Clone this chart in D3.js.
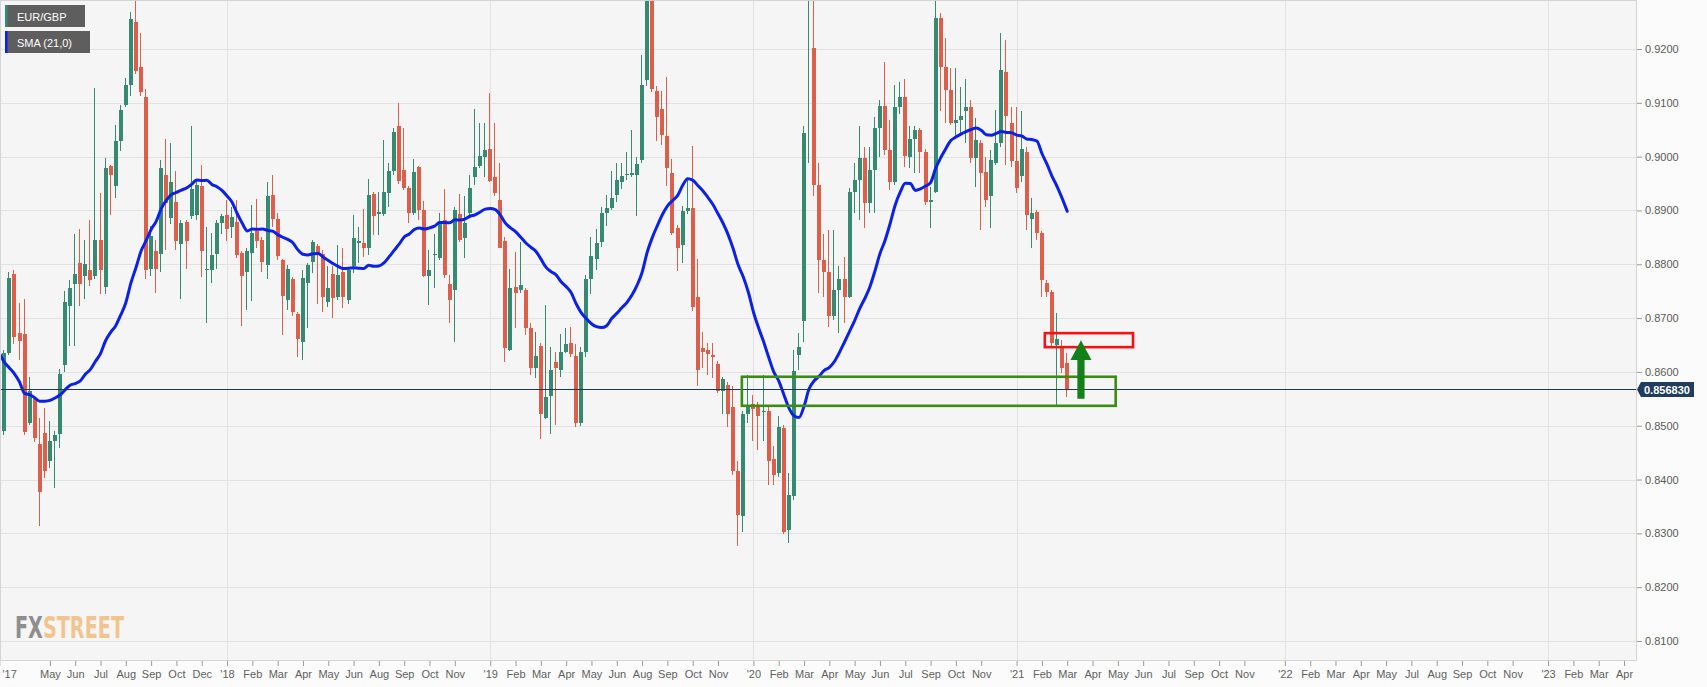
<!DOCTYPE html>
<html><head><meta charset="utf-8">
<script src="https://cdn.jsdelivr.net/npm/d3@7"></script>
<style>html,body{margin:0;padding:0;background:#fbfbfb;} svg{display:block;}</style>
</head><body>
<svg id="chart" width="1707" height="687"></svg>
<script>
// ---------------- DATA ----------------
const symbolName = "EUR/GBP";
const smaName = "SMA (21,0)";
const smaPeriod = 21;
const firstWeek = "2017-02-20"; // weekly candles, one per week from here

const opens = [0.8549,0.8491,0.8635,0.8781,0.8672,0.8670,0.8505,0.8549,0.8466,0.8486,0.8434,0.8472,0.8485,0.8613,0.8723,0.8763,0.8803,0.8778,0.8789,0.8779,
0.8846,0.8757,0.8982,0.8946,0.9029,0.9096,0.9134,0.9251,0.9166,0.9110,0.8792,0.8825,0.8819,0.8965,0.8886,0.8915,0.8838,0.8878,0.8889,0.8891,
0.8946,0.8789,0.8789,0.8819,0.8876,0.8891,0.8869,0.8878,0.8821,0.8786,0.8821,0.8862,0.8845,0.8799,0.8929,0.8884,0.8808,0.8734,0.8772,0.8708,
0.8656,0.8766,0.8805,0.8834,0.8820,0.8730,0.8782,0.8739,0.8786,0.8734,0.8796,0.8840,0.8839,0.8830,0.8931,0.8893,0.8893,0.8932,0.8973,0.9057,
0.8975,0.8941,0.8895,0.8981,0.8901,0.8778,0.8817,0.8811,0.8882,0.8763,0.8752,0.8893,0.8848,0.8895,0.8963,0.8983,0.9000,0.9014,0.8963,0.8919,
0.8844,0.8641,0.8758,0.8752,0.8752,0.8681,0.8607,0.8649,0.8515,0.8556,0.8619,0.8604,0.8637,0.8654,0.8629,0.8505,0.8637,0.8772,0.8810,0.8841,
0.8896,0.8905,0.8929,0.8953,0.8965,0.8966,0.8966,0.8994,0.9142,0.9300,0.9122,0.9089,0.9039,0.8970,0.8868,0.8836,0.8899,0.8904,0.8740,0.8644,
0.8641,0.8632,0.8614,0.8564,0.8576,0.8535,0.8415,0.8332,0.8521,0.8541,0.8535,0.8525,0.8528,0.8438,0.8412,0.8495,0.8306,0.8369,0.8631,0.8695,
0.9300,0.9201,0.8947,0.8808,0.8786,0.8703,0.8752,0.8772,0.8740,0.8935,0.8957,0.8997,0.8913,0.8976,0.9053,0.9094,0.9012,0.8953,0.9093,0.9110,
0.9000,0.9032,0.9049,0.9009,0.8916,0.8935,0.9257,0.9167,0.9124,0.9062,0.9069,0.9084,0.9093,0.8997,0.9026,0.8972,0.8926,0.8988,0.9025,0.9158,
0.9063,0.8991,0.8964,0.9009,0.8885,0.8898,0.8859,0.8765,0.8749,0.8650,0.8648,0.8617];
const highs = [0.8575,0.8640,0.8786,0.8789,0.8728,0.8735,0.8591,0.8552,0.8514,0.8533,0.8509,0.8491,0.8606,0.8750,0.8770,0.8856,0.8866,0.8846,0.8882,0.9128,
0.8933,0.8997,0.8984,0.9058,0.9096,0.9147,0.9269,0.9307,0.9230,0.9125,0.8872,0.8846,0.8994,0.9033,0.9026,0.8974,0.8882,0.8882,0.9056,0.8955,
0.8984,0.8869,0.8859,0.8882,0.8894,0.8920,0.8907,0.8920,0.8824,0.8830,0.8910,0.8921,0.8850,0.8952,0.8966,0.8896,0.8810,0.8799,0.8777,0.8712,
0.8789,0.8803,0.8845,0.8838,0.8827,0.8796,0.8796,0.8836,0.8830,0.8792,0.8892,0.8870,0.8902,0.8958,0.8935,0.8935,0.9031,0.8988,0.9053,0.9099,
0.9053,0.8945,0.8995,0.8983,0.8918,0.8827,0.8857,0.8896,0.8939,0.8780,0.8907,0.8931,0.8926,0.8966,0.9088,0.9062,0.9062,0.9118,0.9063,0.8988,
0.8851,0.8792,0.8823,0.8842,0.8755,0.8690,0.8674,0.8654,0.8724,0.8647,0.8637,0.8671,0.8681,0.8684,0.8651,0.8647,0.8780,0.8850,0.8866,0.8906,
0.8929,0.8974,0.8989,0.8989,0.9009,0.9049,0.8999,0.9188,0.9320,0.9325,0.9132,0.9122,0.9148,0.8996,0.8873,0.8909,0.8959,0.9019,0.8810,0.8675,
0.8654,0.8654,0.8621,0.8591,0.8582,0.8574,0.8435,0.8528,0.8594,0.8558,0.8545,0.8594,0.8535,0.8462,0.8518,0.8501,0.8412,0.8641,0.8672,0.9056,
0.9500,0.9300,0.8988,0.8857,0.8864,0.8864,0.8796,0.8814,0.8941,0.8988,0.9056,0.9018,0.9018,0.9074,0.9105,0.9176,0.9068,0.9133,0.9139,0.9145,
0.9056,0.9056,0.9053,0.9015,0.8944,0.9292,0.9266,0.9220,0.9164,0.9164,0.9130,0.9145,0.9105,0.9071,0.9031,0.9000,0.9012,0.9087,0.9229,0.9217,
0.9093,0.9093,0.9084,0.9018,0.8923,0.8901,0.8861,0.8771,0.8752,0.8710,0.8660,0.8636];
const lows = [0.8402,0.8482,0.8632,0.8651,0.8622,0.8482,0.8501,0.8469,0.8313,0.8402,0.8421,0.8384,0.8459,0.8600,0.8648,0.8648,0.8722,0.8735,0.8760,0.8773,
0.8744,0.8744,0.8891,0.8923,0.9010,0.9093,0.9112,0.9154,0.9112,0.8773,0.8779,0.8747,0.8786,0.8827,0.8875,0.8827,0.8735,0.8792,0.8885,0.8882,
0.8776,0.8690,0.8766,0.8792,0.8856,0.8843,0.8849,0.8811,0.8686,0.8715,0.8731,0.8830,0.8786,0.8772,0.8870,0.8808,0.8669,0.8715,0.8703,0.8628,
0.8622,0.8681,0.8783,0.8727,0.8712,0.8721,0.8700,0.8734,0.8718,0.8727,0.8783,0.8802,0.8814,0.8817,0.8854,0.8854,0.8889,0.8907,0.8966,0.8950,
0.8938,0.8876,0.8892,0.8882,0.8777,0.8724,0.8755,0.8808,0.8774,0.8690,0.8656,0.8842,0.8811,0.8889,0.8947,0.8978,0.8963,0.8953,0.8926,0.8830,
0.8619,0.8638,0.8681,0.8746,0.8669,0.8595,0.8588,0.8475,0.8512,0.8485,0.8501,0.8591,0.8635,0.8627,0.8498,0.8500,0.8627,0.8744,0.8790,0.8833,
0.8872,0.8900,0.8916,0.8939,0.8956,0.8963,0.8890,0.8989,0.9132,0.9120,0.9029,0.9022,0.8946,0.8854,0.8787,0.8803,0.8893,0.8714,0.8574,0.8608,
0.8594,0.8588,0.8561,0.8521,0.8498,0.8408,0.8276,0.8302,0.8505,0.8471,0.8455,0.8471,0.8389,0.8389,0.8405,0.8299,0.8282,0.8362,0.8604,0.8656,
0.8988,0.8926,0.8746,0.8740,0.8684,0.8696,0.8672,0.8690,0.8737,0.8895,0.8882,0.8867,0.8895,0.8895,0.9000,0.9003,0.8938,0.8947,0.9080,0.8981,
0.8978,0.8969,0.8969,0.8910,0.8867,0.8932,0.9084,0.9062,0.9059,0.9037,0.9043,0.9025,0.8988,0.8944,0.8864,0.8907,0.8867,0.8984,0.9018,0.8984,
0.8981,0.8932,0.8953,0.8864,0.8830,0.8845,0.8740,0.8740,0.8644,0.8535,0.8598,0.8553];
const closes = [0.8475,0.8635,0.8774,0.8664,0.8658,0.8488,0.8565,0.8477,0.8377,0.8415,0.8472,0.8482,0.8597,0.8729,0.8755,0.8782,0.8763,0.8800,0.8770,0.8846,
0.8789,0.8978,0.8965,0.9029,0.9086,0.9134,0.9256,0.9160,0.9121,0.8790,0.8853,0.8792,0.8979,0.8914,0.8953,0.8843,0.8876,0.8843,0.8939,0.8947,
0.8824,0.8792,0.8818,0.8876,0.8889,0.8866,0.8888,0.8818,0.8779,0.8824,0.8859,0.8843,0.8805,0.8927,0.8885,0.8815,0.8741,0.8792,0.8712,0.8662,
0.8775,0.8799,0.8842,0.8820,0.8740,0.8755,0.8737,0.8780,0.8739,0.8789,0.8848,0.8843,0.8830,0.8929,0.8889,0.8898,0.8935,0.8973,0.9045,0.8955,
0.8941,0.8896,0.8972,0.8901,0.8778,0.8789,0.8819,0.8877,0.8780,0.8734,0.8901,0.8845,0.8876,0.8941,0.8981,0.9002,0.9012,0.8955,0.8932,0.8831,
0.8644,0.8755,0.8746,0.8761,0.8681,0.8607,0.8629,0.8521,0.8554,0.8604,0.8608,0.8637,0.8651,0.8634,0.8505,0.8637,0.8772,0.8815,0.8840,0.8896,
0.8905,0.8924,0.8957,0.8964,0.8967,0.8970,0.8986,0.9133,0.9300,0.9126,0.9073,0.9040,0.8978,0.8858,0.8830,0.8899,0.8904,0.8720,0.8604,0.8637,
0.8634,0.8627,0.8564,0.8586,0.8521,0.8415,0.8335,0.8521,0.8535,0.8531,0.8518,0.8528,0.8435,0.8408,0.8498,0.8302,0.8372,0.8601,0.8647,0.9043,
0.9320,0.8947,0.8808,0.8786,0.8703,0.8752,0.8772,0.8740,0.8935,0.8957,0.8997,0.8913,0.8976,0.9053,0.9094,0.9012,0.8953,0.9093,0.9110,0.9001,
0.9032,0.9049,0.9009,0.8916,0.8919,0.9257,0.9167,0.9124,0.9062,0.9068,0.9075,0.9093,0.8997,0.9031,0.8969,0.8919,0.8994,0.9025,0.9161,0.9075,
0.8991,0.8941,0.9014,0.8892,0.8895,0.8859,0.8771,0.8749,0.8653,0.8662,0.8607,0.85683];
// weekly closes of the 20 weeks before the first visible candle (feed the SMA)
const priorCloses = [0.8985,0.9000,0.8890,0.8980,0.8930,0.8620,0.8590,0.8520,0.8410,0.8440,
0.8390,0.8480,0.8530,0.8570,0.8720,0.8660,0.8540,0.8580,0.8530,0.8490];

const lastPrice = 0.856830;
const priceTicks = [0.81,0.82,0.83,0.84,0.85,0.86,0.87,0.88,0.89,0.90,0.91,0.92];
const timeTickDates = ["2017-02-20","2017-05-01","2017-06-05","2017-07-10","2017-08-14","2017-09-18","2017-10-23","2017-11-27",
"2018-01-01","2018-02-05","2018-03-12","2018-04-16","2018-05-21","2018-06-25","2018-07-30","2018-09-03","2018-10-08","2018-11-12",
"2018-12-31","2019-02-04","2019-03-11","2019-04-15","2019-05-20","2019-06-24","2019-07-29","2019-09-02","2019-10-07","2019-11-11",
"2019-12-30","2020-02-03","2020-03-09","2020-04-13","2020-05-18","2020-06-22","2020-07-27","2020-08-31","2020-10-05","2020-11-09",
"2020-12-28","2021-02-01","2021-03-08","2021-04-12","2021-05-17","2021-06-21","2021-07-26","2021-08-30","2021-10-04","2021-11-08",
"2022-01-03","2022-02-07","2022-03-14","2022-04-18","2022-05-23","2022-06-27","2022-08-01","2022-09-05","2022-10-10","2022-11-14",
"2023-01-02","2023-02-06","2023-03-13","2023-04-17"];
const timeTickLabels = ["'17","May","Jun","Jul","Aug","Sep","Oct","Dec",
"'18","Feb","Mar","Apr","May","Jun","Aug","Sep","Oct","Nov",
"'19","Feb","Mar","Apr","May","Jun","Aug","Sep","Oct","Nov",
"'20","Feb","Mar","Apr","May","Jun","Jul","Sep","Oct","Nov",
"'21","Feb","Mar","Apr","May","Jun","Jul","Sep","Oct","Nov",
"'22","Feb","Mar","Apr","May","Jul","Aug","Sep","Oct","Nov",
"'23","Feb","Mar","Apr"];
// visible window
const viewStart = "2017-02-21", viewEnd = "2023-05-05";
const viewLow = 0.806283, viewHigh = 0.929105;
// annotations (time / price)
const supportZone = {from:"2019-12-14", to:"2021-05-14", low:0.8537, high:0.8591};
const resistanceZone = {from:"2021-02-05", to:"2021-06-07", low:0.8646, high:0.8672};
const arrowMark = {date:"2021-03-27", base:0.8550, neck:0.8622, tip:0.8659};
const logoText = "FXSTREET";

// ---------------- DRAW ----------------
const W = 1707, H = 687;
const plot = {l:0, t:0, r:1637, b:661};
const parse = d3.utcParse("%Y-%m-%d");
const svg = d3.select("#chart");
const font = "'Liberation Sans', Arial, Helvetica, sans-serif";
const UP = "#368a72", DOWN = "#dc5f4b";

const x = d3.scaleUtc().domain([parse(viewStart), parse(viewEnd)]).range([plot.l, plot.r]);
const y = d3.scaleLinear().domain([viewLow, viewHigh]).range([plot.b, plot.t]);

const t0 = parse(firstWeek);
const candles = closes.map((c, i) => ({
  date: d3.utcDay.offset(t0, 7 * i), o: opens[i], h: highs[i], l: lows[i], c: c
}));
const allCloses = priorCloses.concat(closes);
const sma = closes.map((c, i) => ({
  date: candles[i].date,
  v: d3.mean(allCloses.slice(i + priorCloses.length - (smaPeriod - 1), i + priorCloses.length + 1))
}));

const defs = svg.append("defs");
defs.append("clipPath").attr("id", "clip")
  .append("rect").attr("x", plot.l).attr("y", plot.t).attr("width", plot.r - plot.l).attr("height", plot.b - plot.t);
const lg = defs.append("linearGradient").attr("id", "logoFill")
  .attr("gradientUnits", "userSpaceOnUse").attr("x1", 15).attr("x2", 124).attr("y1", 0).attr("y2", 0);
lg.append("stop").attr("offset", 0.262).attr("stop-color", "#8e8e8e");
lg.append("stop").attr("offset", 0.262).attr("stop-color", "#f1c48e");

svg.append("rect").attr("width", W).attr("height", H).attr("fill", "#fbfbfb");
svg.append("rect").attr("x", plot.l).attr("y", plot.t).attr("width", plot.r - plot.l).attr("height", plot.b - plot.t).attr("fill", "#f5f5f6");

// grid
const grid = svg.append("g").attr("shape-rendering", "crispEdges");
grid.selectAll("line.h").data(priceTicks).join("line")
  .attr("x1", plot.l).attr("x2", plot.r)
  .attr("y1", d => Math.round(y(d)) + 0.5).attr("y2", d => Math.round(y(d)) + 0.5)
  .attr("stroke", "#e2e2e3");
const yearTicks = timeTickDates.filter((d, i) => timeTickLabels[i].startsWith("'"));
grid.selectAll("line.v").data(yearTicks).join("line")
  .attr("x1", d => Math.round(x(parse(d))) + 0.5).attr("x2", d => Math.round(x(parse(d))) + 0.5)
  .attr("y1", plot.t).attr("y2", plot.b)
  .attr("stroke", "#e2e2e3");

// watermark logo (under the data)
svg.append("text").attr("x", 15).attr("y", 638).attr("textLength", 109).attr("lengthAdjust", "spacingAndGlyphs")
  .attr("fill", "url(#logoFill)")
  .style("font-family", "'DejaVu Sans Condensed','DejaVu Sans',sans-serif")
  .style("font-weight", "bold").style("font-size", "30px").text(logoText);

const g = svg.append("g").attr("clip-path", "url(#clip)");

// candles
const bodyW = 4;
const cg = g.append("g").attr("shape-rendering", "crispEdges");
const cand = cg.selectAll("g.c").data(candles).join("g");
cand.append("rect")
  .attr("x", d => Math.round(x(d.date) - bodyW / 2) + 1)
  .attr("width", 1)
  .attr("y", d => y(d.h))
  .attr("height", d => Math.max(1, y(d.l) - y(d.h)))
  .attr("fill", d => d.c >= d.o ? UP : DOWN);
cand.append("rect")
  .attr("x", d => Math.round(x(d.date) - bodyW / 2) - 0.5)
  .attr("width", bodyW)
  .attr("y", d => y(Math.max(d.o, d.c)))
  .attr("height", d => Math.max(1, Math.abs(y(d.o) - y(d.c))))
  .attr("fill", d => d.c >= d.o ? UP : DOWN);

// SMA
g.append("path").datum(sma)
  .attr("d", d3.line().x(d => x(d.date)).y(d => y(d.v)).curve(d3.curveMonotoneX))
  .attr("fill", "none").attr("stroke", "#0b22e6").attr("stroke-width", 3)
  .attr("stroke-linejoin", "round").attr("stroke-linecap", "round");

// last price line
g.append("line").attr("x1", plot.l).attr("x2", plot.r)
  .attr("y1", Math.round(y(lastPrice)) + 0.5).attr("y2", Math.round(y(lastPrice)) + 0.5)
  .attr("stroke", "#1e3a52").attr("stroke-width", 1).attr("shape-rendering", "crispEdges");

// annotations
g.append("rect")
  .attr("x", x(parse(supportZone.from))).attr("y", y(supportZone.high))
  .attr("width", x(parse(supportZone.to)) - x(parse(supportZone.from)))
  .attr("height", y(supportZone.low) - y(supportZone.high))
  .attr("fill", "none").attr("stroke", "#3b8c12").attr("stroke-width", 2.6);
g.append("rect")
  .attr("x", x(parse(resistanceZone.from))).attr("y", y(resistanceZone.high))
  .attr("width", x(parse(resistanceZone.to)) - x(parse(resistanceZone.from)))
  .attr("height", y(resistanceZone.low) - y(resistanceZone.high))
  .attr("fill", "none").attr("stroke", "#f01414").attr("stroke-width", 2.6);
{
  const ax = x(parse(arrowMark.date));
  const yb = y(arrowMark.base), yn = y(arrowMark.neck), yt = y(arrowMark.tip);
  const sw = 3.6, hw = 10.5;
  g.append("path")
    .attr("d", `M${ax - sw},${yb} L${ax - sw},${yn} L${ax - hw},${yn} L${ax},${yt} L${ax + hw},${yn} L${ax + sw},${yn} L${ax + sw},${yb} Z`)
    .attr("fill", "#13801a");
}

// plot border
svg.append("rect").attr("x", plot.l + 0.5).attr("y", plot.t + 0.5)
  .attr("width", plot.r - plot.l - 1).attr("height", plot.b - plot.t - 1)
  .attr("fill", "none").attr("stroke", "#d4d4d6").attr("shape-rendering", "crispEdges");

// right price axis
const yAxis = svg.append("g").attr("transform", `translate(${plot.r},0)`)
  .call(d3.axisRight(y).tickValues(priceTicks).tickFormat(d3.format(".4f")).tickSize(5).tickPadding(3));
yAxis.select(".domain").remove();
yAxis.selectAll(".tick line").attr("stroke", "#9a9a9a");
yAxis.selectAll(".tick text").attr("fill", "#5a5a5a").style("font-family", font).style("font-size", "11px");

// bottom time axis
const xAxis = svg.append("g").attr("transform", `translate(0,${plot.b})`)
  .call(d3.axisBottom(x).tickValues(timeTickDates.map(parse)).tickFormat((d, i) => timeTickLabels[i]).tickSize(5).tickPadding(4));
xAxis.select(".domain").remove();
xAxis.selectAll(".tick line").attr("stroke", "#9a9a9a");
xAxis.selectAll(".tick text").attr("fill", "#5f5f5f").style("font-family", font).style("font-size", "11px");
xAxis.selectAll(".tick").each(function(d) {
  const tx = x(d);
  if (tx < 10) d3.select(this).select("text").attr("text-anchor", "start").attr("x", 2 - tx);
});

// last price tag
{
  const yy = Math.round(y(lastPrice)) + 0.5;
  svg.append("path")
    .attr("d", `M${plot.r},${yy} L${plot.r + 4},${yy - 7.5} L${plot.r + 57},${yy - 7.5} L${plot.r + 57},${yy + 7.5} L${plot.r + 4},${yy + 7.5} Z`)
    .attr("fill", "#1f3b5d");
  svg.append("text").attr("x", plot.r + 7).attr("y", yy + 4)
    .attr("fill", "#ffffff").style("font-family", font).style("font-size", "11px").style("font-weight", "bold")
    .text(d3.format(".6f")(lastPrice));
}

// legend
const legend = svg.append("g");
[[symbolName, UP, 5, 80], [smaName, "#0b22e6", 31, 85]].forEach(([label, col, yy, w]) => {
  legend.append("rect").attr("x", 5).attr("y", yy).attr("width", w).attr("height", 22).attr("fill", "#5e5e5e");
  legend.append("rect").attr("x", 5).attr("y", yy).attr("width", 2.5).attr("height", 22).attr("fill", col);
  legend.append("text").attr("x", 17).attr("y", yy + 15.5).attr("fill", "#ffffff")
    .style("font-family", font).style("font-size", "11px").text(label);
});
</script>
</body></html>
